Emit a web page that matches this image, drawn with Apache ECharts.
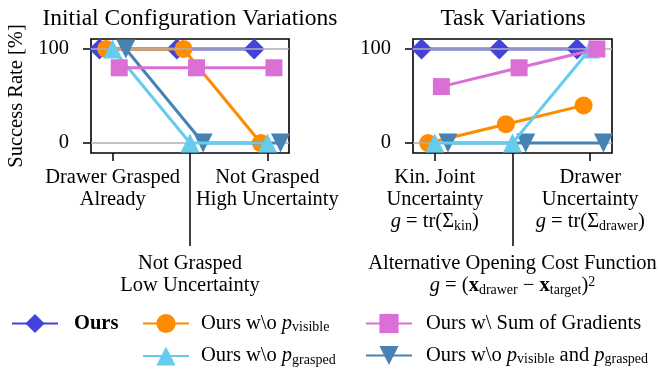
<!DOCTYPE html>
<html>
<head>
<meta charset="utf-8">
<script src="https://cdn.jsdelivr.net/npm/echarts@6/dist/echarts.min.js"></script>
<style>html,body{margin:0;padding:0;background:#fff;}#c{width:660px;height:369px;}</style>
</head>
<body>
<div id="c"></div>
<script>
// ---- data ----
const leftCategories = ['Drawer Grasped\nAlready', 'Not Grasped\nLow Uncertainty', 'Not Grasped\nHigh Uncertainty'];
const rightCategories = [
  'Kin. Joint\nUncertainty\n{i|g} = tr(Σ{s|kin})',
  'Alternative Opening Cost Function\n{i|g} = ({b|x}{s|drawer} − {b|x}{s|target}){p|2}',
  'Drawer\nUncertainty\n{i|g} = tr(Σ{s|drawer})'
];
const seriesNames = ['Ours', 'Ours w\\o p_visible', 'Ours w\\o p_grasped', 'Ours w\\ Sum of Gradients', 'Ours w\\o p_visible and p_grasped'];
const leftOurs = [100, 100, 100];
const leftNoVisible = [100, 100, 0];
const leftNoGrasped = [100, 0, 0];
const leftSumGrad = [80, 80, 80];
const leftNoBoth = [100, 0, 0];
const rightOurs = [100, 100, 100];
const rightNoVisible = [0, 20, 40];
const rightNoGrasped = [0, 0, 100];
const rightSumGrad = [60, 80, 100];
const rightNoBoth = [0, 0, 0];
const yTicks = [0, 100];
const titles = ['Initial Configuration Variations', 'Task Variations'];
const yName = 'Success Rate [%]';

// ---- styles ----
const FONT = 'Liberation Serif';
const FS = 20.5;
const offsets = [-0.17, -0.085, 0, 0.085, 0.17];
const colors = ['#4343DC', '#FF8C00', '#66CCEE', '#DA70D6', '#4682B4'];
const symbols = ['diamond', 'circle', 'triangle', 'rect', 'triangle'];
const symbolSizes = [21, 18, 19, 17, 19];
const rotates = [0, 0, 0, 0, 180];
const zs = [3, 4, 6, 7, 5];
const legendRich = {
  t: {fontFamily: FONT, fontSize: FS, lineHeight: 22, verticalAlign: 'middle', color: '#000'},
  bo: {fontFamily: FONT, fontSize: FS, fontWeight: 'bold', lineHeight: 22, verticalAlign: 'middle', color: '#000'},
  i: {fontFamily: FONT, fontSize: FS, fontStyle: 'italic', lineHeight: 22, verticalAlign: 'middle', color: '#000'},
  s: {fontFamily: FONT, fontSize: 14, lineHeight: 11, verticalAlign: 'bottom', color: '#000'}
};
const legendText = {
  'Ours': '{bo|Ours}',
  'Ours w\\o p_visible': '{t|Ours w\\o }{i|p}{s|visible}',
  'Ours w\\o p_grasped': '{t|Ours w\\o }{i|p}{s|grasped}',
  'Ours w\\ Sum of Gradients': '{t|Ours w\\ Sum of Gradients}',
  'Ours w\\o p_visible and p_grasped': '{t|Ours w\\o }{i|p}{s|visible}{t| and }{i|p}{s|grasped}'
};
const labelRich = {
  i: {fontFamily: FONT, fontSize: FS, fontStyle: 'italic', lineHeight: 22, verticalAlign: 'middle', color: '#000'},
  b: {fontFamily: FONT, fontSize: FS, fontWeight: 'bold', lineHeight: 22, verticalAlign: 'middle', color: '#000'},
  s: {fontFamily: FONT, fontSize: 14, lineHeight: 11, verticalAlign: 'bottom', color: '#000'},
  p: {fontFamily: FONT, fontSize: 14, lineHeight: 11, verticalAlign: 'top', color: '#000'}
};

const grids = [
  {left: 91, top: 39, width: 198, height: 114},
  {left: 413, top: 39, width: 199, height: 114}
];
const XMIN = -0.28, XMAX = 2.28, YMIN = -10.6, YMAX = 110.6;
const cats = [leftCategories, rightCategories];

const xAxes = [];
const yAxes = [];
for (let g = 0; g < 2; g++) {
  const fmt = v => cats[g][Math.round(v)];
  const lblBase = {fontFamily: FONT, fontSize: FS, color: '#000', lineHeight: 22, rich: labelRich, formatter: fmt};
  xAxes.push({
    type: 'value', gridIndex: g, min: XMIN, max: XMAX, position: 'bottom',
    axisLine: {show: false, onZero: false},
    axisTick: {show: true, customValues: [0, 2], length: 8, lineStyle: {color: '#000', width: 1.5}},
    axisLabel: Object.assign({customValues: [0, 2], margin: 14}, lblBase),
    splitLine: {show: false}
  });
  xAxes.push({
    type: 'value', gridIndex: g, min: XMIN, max: XMAX, position: 'bottom',
    axisLine: {show: false, onZero: false},
    axisTick: {show: true, customValues: [1], length: 93, lineStyle: {color: '#000', width: 1.5}},
    axisLabel: Object.assign({customValues: [1], margin: 100}, lblBase),
    splitLine: {show: false}
  });
  yAxes.push({
    type: 'value', gridIndex: g, min: YMIN, max: YMAX,
    name: g === 0 ? yName : '', nameLocation: 'middle', nameGap: 64, nameRotate: 90,
    nameTextStyle: {fontFamily: FONT, fontSize: FS, color: '#000'},
    axisLine: {show: false, onZero: false},
    axisTick: {show: true, customValues: yTicks, length: 8, lineStyle: {color: '#000', width: 1.5}},
    axisLabel: {customValues: yTicks, margin: 22, fontFamily: FONT, fontSize: FS, color: '#000'},
    splitLine: {show: false}
  });
}

const panelData = [
  [leftOurs, leftNoVisible, leftNoGrasped, leftSumGrad, leftNoBoth],
  [rightOurs, rightNoVisible, rightNoGrasped, rightSumGrad, rightNoBoth]
];
const series = [];
for (let g = 0; g < 2; g++) {
  series.push({
    type: 'line', xAxisIndex: g * 2, yAxisIndex: g, data: [], z: 1, silent: true,
    markLine: {silent: true, symbol: 'none', label: {show: false}, animation: false,
      lineStyle: {color: '#b0b0b0', width: 1.5, type: 'solid'},
      data: yTicks.map(v => ({yAxis: v}))}
  });
  for (let s = 0; s < 5; s++) {
    series.push({
      name: seriesNames[s], type: 'line', xAxisIndex: g * 2, yAxisIndex: g, z: zs[s],
      data: panelData[g][s].map((v, k) => [k + offsets[s], v]),
      symbol: symbols[s], symbolSize: symbolSizes[s], symbolRotate: rotates[s], showAllSymbol: true,
      lineStyle: {color: colors[s], width: 3},
      itemStyle: {color: colors[s], borderWidth: 0},
      emphasis: {disabled: true}, animation: false
    });
  }
}

const legendBase = {
  orient: 'vertical', padding: 0, itemWidth: 46, itemHeight: 24, itemGap: 11,
  selectedMode: false,
  formatter: n => legendText[n],
  textStyle: {fontFamily: FONT, fontSize: FS, color: '#000', rich: legendRich}
};
const option = {
  backgroundColor: '#fff',
  animation: false,
  title: [
    {text: titles[0], left: 190, top: 7, textAlign: 'center', padding: 0,
      textStyle: {fontFamily: FONT, fontSize: 23.5, fontWeight: 'normal', color: '#000'}},
    {text: titles[1], left: 513, top: 7, textAlign: 'center', padding: 0,
      textStyle: {fontFamily: FONT, fontSize: 23.5, fontWeight: 'normal', color: '#000'}}
  ],
  grid: grids.map(g => Object.assign({show: true, borderColor: '#000', borderWidth: 1.6, backgroundColor: 'transparent'}, g)),
  xAxis: xAxes,
  yAxis: yAxes,
  legend: [
    Object.assign({}, legendBase, {data: [seriesNames[0]], left: 11, top: 313,
      textStyle: Object.assign({}, legendBase.textStyle, {padding: [0, 0, 0, 11]})}),
    Object.assign({}, legendBase, {data: [seriesNames[1], seriesNames[2]], left: 142, top: 313,
      textStyle: Object.assign({}, legendBase.textStyle, {padding: [0, 0, 0, 7]})}),
    Object.assign({}, legendBase, {data: [seriesNames[3], seriesNames[4]], left: 365, top: 313,
      textStyle: Object.assign({}, legendBase.textStyle, {padding: [0, 0, 0, 9]})})
  ],
  series: series
};
const chart = echarts.init(document.getElementById('c'), null, {renderer: 'canvas'});
chart.setOption(option);
</script>
</body>
</html>
